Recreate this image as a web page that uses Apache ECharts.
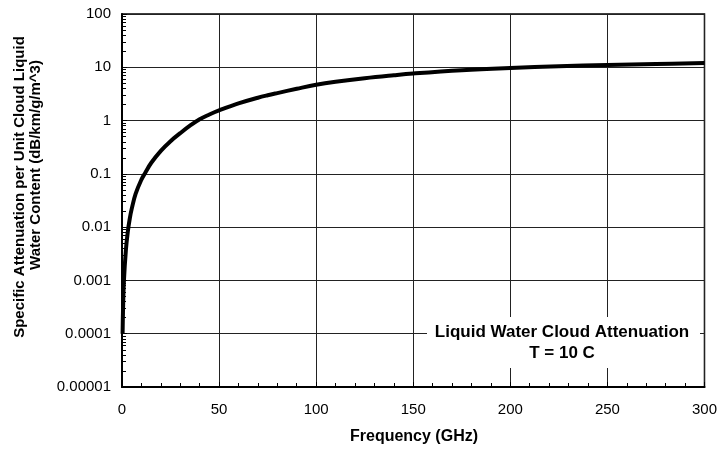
<!DOCTYPE html>
<html>
<head>
<meta charset="utf-8">
<script src="https://cdn.jsdelivr.net/npm/echarts@6/dist/echarts.min.js"></script>
<style>
html,body{margin:0;padding:0;background:#fff;}
#chart{width:720px;height:451px;}
</style>
</head>
<body>
<div id="chart"></div>
<script>
// Frequency (GHz)
const freq = [0.3, 0.5, 1, 2, 3, 4, 5, 7, 10, 12, 15, 20, 25, 30, 35, 40, 45, 50, 60, 70, 75, 80, 90, 100, 110, 125, 140, 150, 175, 200, 225, 250, 275, 300];
// Specific attenuation (dB/km/g/m^3)
const atten = [0.0001, 0.00025, 0.001, 0.0037, 0.0083, 0.0145, 0.022, 0.042, 0.078, 0.105, 0.16, 0.27, 0.41, 0.58, 0.8, 1.06, 1.3, 1.55, 2.1, 2.68, 2.98, 3.28, 3.95, 4.7, 5.35, 6.25, 7.1, 7.65, 8.8, 9.7, 10.45, 11.05, 11.55, 12.0];
const yTickLabels = ['0.00001', '0.0001', '0.001', '0.01', '0.1', '1', '10', '100'];
const xTitle = 'Frequency (GHz)';
const yTitle1 = 'Specific Attenuation per Unit Cloud Liquid';
const yTitle2 = 'Water Content (dB/km/g/m^3)';
const note1 = 'Liquid Water Cloud Attenuation';
const note2 = 'T = 10 C';

const FONT = 'Liberation Sans, Arial, Helvetica, sans-serif';
const chart = echarts.init(document.getElementById('chart'), null, {renderer: 'canvas'});
const seriesData = freq.map((f, i) => [f, atten[i]]);

chart.setOption({
  animation: false,
  backgroundColor: '#fff',
  grid: {left: 122, right: 14, top: 14, bottom: 64, show: true, borderColor: '#000', borderWidth: 1.5},
  xAxis: {
    type: 'value', min: 0, max: 300, interval: 50,
    axisLine: {show: true, lineStyle: {color: '#000', width: 2}},
    axisTick: {show: true, inside: true, length: 5, lineStyle: {color: '#000'}},
    minorTick: {show: true, splitNumber: 5, length: 4, lineStyle: {color: '#000', width: 1}},
    splitLine: {show: true, lineStyle: {color: '#222', width: 1}},
    axisLabel: {color: '#000', fontSize: 15, fontFamily: FONT, margin: 15}
  },
  yAxis: {
    type: 'log', logBase: 10, min: 0.00001, max: 100, interval: 1,
    axisLine: {show: true, onZero: false, lineStyle: {color: '#000', width: 2}},
    axisTick: {show: true, inside: true, length: 5, lineStyle: {color: '#000'}},
    minorTick: {show: true, splitNumber: 9, length: 4, lineStyle: {color: '#000', width: 1}},
    splitLine: {show: true, lineStyle: {color: '#222', width: 1}},
    axisLabel: {
      color: '#000', fontSize: 15, fontFamily: FONT, margin: 11,
      formatter: function (v) {
        const idx = Math.round(Math.log10(v)) + 5;
        return yTickLabels[idx] !== undefined ? yTickLabels[idx] : '';
      }
    }
  },
  series: [{
    type: 'line',
    data: seriesData,
    smooth: 0.4,
    showSymbol: false,
    lineStyle: {color: '#000', width: 4},
    z: 5
  }],
  graphic: [
    {type: 'text', x: 414, y: 437, style: {text: xTitle, font: 'bold 16px ' + FONT, fill: '#000', textAlign: 'center', textVerticalAlign: 'middle'}, silent: true},
    {type: 'text', x: 19.5, y: 187, rotation: Math.PI / 2, style: {text: yTitle1, font: 'bold 15px ' + FONT, fill: '#000', textAlign: 'center', textVerticalAlign: 'middle'}, silent: true},
    {type: 'text', x: 36, y: 165, rotation: Math.PI / 2, style: {text: yTitle2, font: 'bold 15px ' + FONT, fill: '#000', textAlign: 'center', textVerticalAlign: 'middle'}, silent: true},
    {type: 'rect', x: 427, y: 317, shape: {width: 273, height: 51}, style: {fill: '#fff'}, z: 10, silent: true},
    {type: 'text', x: 562, y: 332, style: {text: note1, font: 'bold 17px ' + FONT, fill: '#000', textAlign: 'center', textVerticalAlign: 'middle'}, z: 11, silent: true},
    {type: 'text', x: 562, y: 353, style: {text: note2, font: 'bold 17px ' + FONT, fill: '#000', textAlign: 'center', textVerticalAlign: 'middle'}, z: 11, silent: true}
  ]
});
</script>
</body>
</html>
